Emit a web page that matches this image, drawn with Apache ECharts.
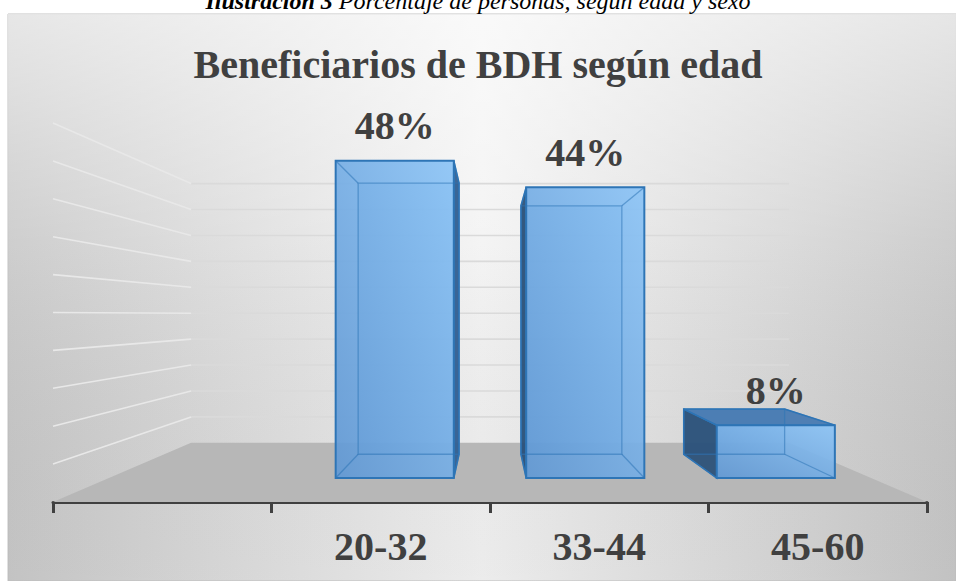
<!DOCTYPE html>
<html>
<head>
<meta charset="utf-8">
<script src="https://cdn.jsdelivr.net/npm/echarts@6/dist/echarts.min.js"></script>
<style>
html,body{margin:0;padding:0;background:#ffffff;}
#chart{width:956px;height:581px;}
</style>
</head>
<body>
<div id="chart"></div>
<script>
// ---- data ----
const categories = ['', '20-32', '33-44', '45-60'];
const values = [null, 48, 44, 8];
const gridValues = [0, 5, 10, 15, 20, 25, 30, 35, 40, 45, 50];
const titleText = 'Beneficiarios de BDH según edad';
const captionBold = 'Ilustración 3';
const captionRest = ' Porcentaje de personas, según edad y sexo';

// ---- style / projection constants ----
const SERIF = '"Liberation Serif", "Times New Roman", Times, serif';
const VP_FRAC = 0.506;      // vanishing point height within grid
const S_WALL = 0.684;       // depth scale of back wall
const S_BAR_FRONT = 0.872;  // depth scale of bar front faces
const S_BAR_BACK = 0.745;   // depth scale of bar back faces
const BAR_FRAC = 0.62;      // bar width as fraction of band

function projector(cs) {
  const vx = cs.x + cs.width / 2;
  const vy = cs.y + cs.height * VP_FRAC;
  return {
    vx: vx, vy: vy,
    p: function (pt, s) { return [vx + (pt[0] - vx) * s, vy + (pt[1] - vy) * s]; }
  };
}

function renderWalls(params, api) {
  const cs = params.coordSys;
  const P = projector(cs);
  const v = api.value(1);
  const y = api.coord([0, v])[1];
  const xl = cs.x, xr = cs.x + cs.width;
  const children = [];
  if (v === 0) {
    children.push({
      type: 'polygon',
      shape: { points: [[xl, y], [xr, y], P.p([xr, y], S_WALL), P.p([xl, y], S_WALL)] },
      style: { fill: '#b7b7b7' }
    });
  } else {
    const bl = P.p([xl, y], S_WALL), br = P.p([xr, y], S_WALL);
    children.push({ type: 'line', shape: { x1: bl[0], y1: bl[1], x2: br[0], y2: br[1] },
      style: { stroke: '#dadada', lineWidth: 1.6 } });
    children.push({ type: 'line', shape: { x1: xl, y1: y, x2: bl[0], y2: bl[1] },
      style: { stroke: '#e8e8e8', lineWidth: 1.6 } });
  }
  return { type: 'group', children: children };
}

function renderBar(params, api) {
  const cs = params.coordSys;
  const P = projector(cs);
  const idx = api.value(0);
  const v = api.value(1);
  const base = api.coord([idx, 0]);
  const topPt = api.coord([idx, v]);
  const bw = api.size([1, 0])[0] * BAR_FRAC;
  const xl = base[0] - bw / 2, xr = base[0] + bw / 2;
  const y0 = base[1], y1 = topPt[1];
  const f = function (pt) { return P.p(pt, S_BAR_FRONT); };
  const b = function (pt) { return P.p(pt, S_BAR_BACK); };
  const F = { tl: f([xl, y1]), tr: f([xr, y1]), br: f([xr, y0]), bl: f([xl, y0]) };
  const B = { tl: b([xl, y1]), tr: b([xr, y1]), br: b([xr, y0]), bl: b([xl, y0]) };
  const edge = '#2e75b6';
  const inner = 'rgba(46,117,182,0.55)';
  const ch = [];
  ch.push({ type: 'polygon', shape: { points: [B.tl, B.tr, B.br, B.bl] },
    style: { fill: 'rgba(91,155,213,0.45)' } });
  if (F.tl[0] > P.vx) {
    ch.push({ type: 'polygon', shape: { points: [F.tl, B.tl, B.bl, F.bl] },
      style: { fill: 'rgba(40,78,118,0.92)', stroke: edge, lineWidth: 1.5 } });
  }
  if (F.tr[0] < P.vx) {
    ch.push({ type: 'polygon', shape: { points: [F.tr, B.tr, B.br, F.br] },
      style: { fill: 'rgba(52,96,145,0.95)', stroke: edge, lineWidth: 1.5 } });
  }
  if (F.tl[1] > P.vy) {
    ch.push({ type: 'polygon', shape: { points: [F.tl, F.tr, B.tr, B.tl] },
      style: { fill: 'rgba(72,122,178,0.95)', stroke: edge, lineWidth: 1.5 } });
  }
  ch.push({ type: 'polygon', shape: { points: [F.tl, F.tr, F.br, F.bl] },
    style: {
      fill: new echarts.graphic.LinearGradient(0, 1, 1, 0, [
        { offset: 0, color: 'rgba(96,152,212,0.92)' },
        { offset: 1, color: 'rgba(140,196,246,0.92)' }
      ])
    } });
  ch.push({ type: 'polygon', shape: { points: [B.tl, B.tr, B.br, B.bl] },
    style: { fill: 'none', stroke: inner, lineWidth: 1.3 } });
  ['tl', 'tr', 'br', 'bl'].forEach(function (k) {
    ch.push({ type: 'line', shape: { x1: F[k][0], y1: F[k][1], x2: B[k][0], y2: B[k][1] },
      style: { stroke: inner, lineWidth: 1.3 } });
  });
  ch.push({ type: 'polygon', shape: { points: [F.tl, F.tr, F.br, F.bl] },
    style: { fill: 'none', stroke: edge, lineWidth: 2 } });
  ch.push({ type: 'text', x: (F.tl[0] + F.tr[0]) / 2, y: F.tl[1] - 35,
    style: { text: v + '%', fontFamily: SERIF, fontWeight: 'bold', fontSize: 40,
      fill: '#404040', align: 'center', verticalAlign: 'middle' } });
  return { type: 'group', children: ch };
}

const chart = echarts.init(document.getElementById('chart'), null, { renderer: 'svg' });
chart.setOption({
  animation: false,
  backgroundColor: '#ffffff',
  title: {
    text: titleText, left: 'center', top: 39,
    textStyle: { fontFamily: SERIF, fontWeight: 'bold', fontSize: 40, color: '#404040', lineHeight: 40 }
  },
  graphic: [
    { type: 'rect', z: -10, shape: { x: 8, y: 14, width: 948, height: 567 },
      style: { fill: new echarts.graphic.LinearGradient(0, 0, 1, 0, [
        { offset: 0, color: '#c9c9c9' }, { offset: 0.5, color: '#f3f3f3' }, { offset: 1, color: '#c8c8c8' }
      ]), stroke: '#c2c2c2', lineWidth: 1 } },
    { type: 'rect', z: -9, shape: { x: 8, y: 14, width: 948, height: 567 },
      style: { fill: new echarts.graphic.LinearGradient(0, 0, 0, 1, [
        { offset: 0, color: 'rgba(255,255,255,0.55)' }, { offset: 0.4, color: 'rgba(255,255,255,0.1)' },
        { offset: 1, color: 'rgba(0,0,0,0.03)' }
      ]) } },
    { type: 'text', x: 478, y: 1, z: 10,
      style: { text: '{b|' + captionBold + '}{n|' + captionRest + '}',
        align: 'center', verticalAlign: 'middle', fill: '#000',
        rich: {
          b: { fontFamily: SERIF, fontStyle: 'italic', fontWeight: 'bold', fontSize: 24, fill: '#000' },
          n: { fontFamily: SERIF, fontStyle: 'italic', fontSize: 24, fill: '#000' }
        } } }
  ],
  grid: { left: 53, right: 29, top: 123, bottom: 79, containLabel: false },
  xAxis: {
    type: 'category', data: categories, boundaryGap: true,
    axisLine: { show: true, lineStyle: { color: '#404040', width: 3 } },
    axisTick: { show: true, length: 11, interval: 0, lineStyle: { color: '#404040', width: 3 } },
    axisLabel: { show: true, interval: 0, margin: 44, verticalAlign: 'middle',
      fontFamily: SERIF, fontWeight: 'bold', fontSize: 40, color: '#404040' },
    splitLine: { show: false }
  },
  yAxis: {
    type: 'value', min: 0, max: 50, interval: 5, show: false,
    splitLine: { show: false }
  },
  series: [
    { type: 'custom', name: 'walls', renderItem: renderWalls, clip: false, silent: true,
      encode: { x: 0, y: 1 }, data: gridValues.map(function (g) { return [0, g]; }), z: 1 },
    { type: 'custom', name: 'Beneficiarios', renderItem: renderBar, clip: false,
      encode: { x: 0, y: 1 },
      data: values.map(function (v, i) { return [i, v]; }).filter(function (d) { return d[1] != null; }), z: 3 }
  ]
});
</script>
</body>
</html>
